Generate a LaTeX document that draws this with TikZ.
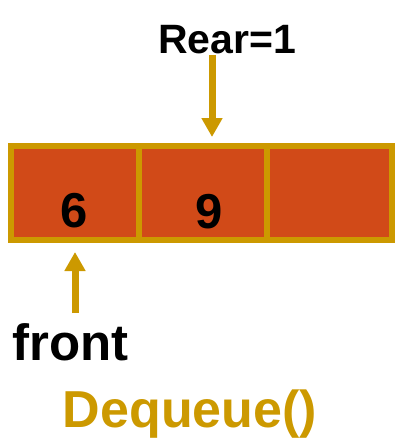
\documentclass[tikz,border=0pt]{standalone}
\usepackage{fontspec}
\setmainfont{Liberation Sans}
\usetikzlibrary{arrows.meta}
\definecolor{cellred}{HTML}{D14A18}
\definecolor{gold}{HTML}{CC9900}
\begin{document}
\begin{tikzpicture}[x=1pt,y=-1pt,
  cell/.style={draw=gold,line width=6pt,fill=cellred,minimum width=128pt,minimum height=94pt,inner sep=0pt,outer sep=0pt},
  ptr/.style={draw=gold,line width=7pt,-{Triangle[width=20pt,length=19pt]}},
  lbl/.style={font=\bfseries,inner sep=0pt,anchor=base}]
\useasboundingbox (0,0) rectangle (394,439);
\node[cell] (c0) at (75,193) {};
\node[cell] (c1) at (203,193) {};
\node[cell,minimum width=125pt] (c2) at (329.5,193) {};
\node[lbl,font=\fontsize{49}{49}\bfseries] (v0) at (74,227) {6};
\node[lbl,font=\fontsize{49}{49}\bfseries] (v1) at (209,228) {9};
\node[lbl,font=\fontsize{41}{41}\bfseries] (rear) at (227,53) {Rear=1};
\node[lbl,font=\fontsize{51}{51}\bfseries,anchor=base west] (front) at (12,360) {front};
\node[lbl,font=\fontsize{52}{52}\bfseries,text=gold] (deq) at (190,427) {Dequeue()};
\coordinate (rs) at (212,55);
\coordinate (re) at (212,137);
\coordinate (fs) at (75,313);
\coordinate (fe) at (75,252);
\draw[ptr] (rs) -- (re);
\draw[ptr] (fs) -- (fe);
\end{tikzpicture}
\end{document}
